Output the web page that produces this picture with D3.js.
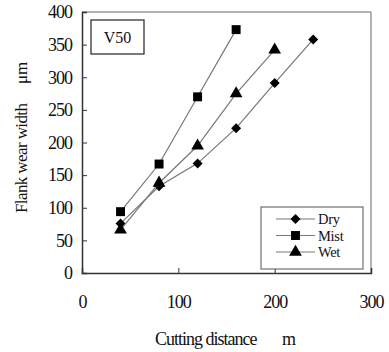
<!DOCTYPE html>
<html><head><meta charset="utf-8">
<script src="https://cdn.jsdelivr.net/npm/d3@7"></script>
<style>body{margin:0;background:#fff}svg{display:block}text{font-family:"Liberation Serif","Times New Roman",serif;fill:#111}</style>
</head><body><svg id="c" width="389" height="352"></svg>
<script>
const xTicks = [0, 100, 200, 300];
const yTicks = [0, 50, 100, 150, 200, 250, 300, 350, 400];
const dryX = [40, 80, 120, 160, 200, 240];
const dryY = [76, 133, 168, 222, 291, 358];
const mistX = [40, 80, 120, 160];
const mistY = [94, 167, 270, 373];
const wetX = [40, 80, 120, 160, 200];
const wetY = [66, 138, 195, 275, 342];
const seriesNames = ["Dry", "Mist", "Wet"];
const seriesShapes = ["diamond", "square", "triangle"];
const labelText = "V50";
const xTitle = ["Cutting distance", "m"];
const yTitle = ["Flank wear width", "\u03bcm"];

const svg = d3.select("#c");
const L = 82, R = 371, T = 12, B = 273;
const x = d3.scaleLinear().domain([0, 300]).range([L, R]);
const y = d3.scaleLinear().domain([0, 400]).range([B, T]);

// frame
svg.append("line").attr("x1", L).attr("x2", R).attr("y1", T).attr("y2", T).attr("stroke", "#999").attr("stroke-width", 1.5);
svg.append("line").attr("x1", R).attr("x2", R).attr("y1", T).attr("y2", B).attr("stroke", "#999").attr("stroke-width", 1.5);

const yAxis = svg.append("g").attr("transform", `translate(${L},0)`)
  .call(d3.axisLeft(y).tickValues(yTicks).tickSize(-5).tickPadding(10).tickFormat(d3.format("d")));
yAxis.select(".domain").attr("stroke", "#333").attr("stroke-width", 1.5);
yAxis.selectAll(".tick line").attr("stroke", "#333");
yAxis.selectAll("text").attr("font-size", 18).attr("letter-spacing", -1).attr("fill", "#111");

const xAxis = svg.append("g").attr("transform", `translate(0,${B})`)
  .call(d3.axisBottom(x).tickValues(xTicks).tickSize(-5).tickPadding(22).tickFormat(d3.format("d")));
xAxis.select(".domain").attr("stroke", "#333").attr("stroke-width", 1.5);
xAxis.selectAll(".tick line").attr("stroke", "#333");
xAxis.selectAll("text").attr("font-size", 18).attr("letter-spacing", -1).attr("fill", "#111");

svg.append("text").attr("x", 155).attr("y", 345).attr("font-size", 18).attr("letter-spacing", -1).text(xTitle[0]);
svg.append("text").attr("x", 282).attr("y", 345).attr("font-size", 18).text(xTitle[1]);
svg.append("text").attr("transform", "translate(27,213) rotate(-90)").attr("font-size", 17).attr("letter-spacing", -0.6).text(yTitle[0]);
svg.append("text").attr("transform", "translate(27,84) rotate(-90)").attr("font-size", 17).text(yTitle[1]);

// V50 box
svg.append("rect").attr("x", 91).attr("y", 20).attr("width", 53).attr("height", 34).attr("fill", "#fff").attr("stroke", "#222").attr("stroke-width", 1.2);
svg.append("text").attr("x", 117.5).attr("y", 43).attr("text-anchor", "middle").attr("font-size", 16).text(labelText);

const symbols = {diamond: d3.symbol().type(d3.symbolSquare).size(50),
  square: d3.symbol().type(d3.symbolSquare).size(80),
  triangle: d3.symbol().type(d3.symbolTriangle).size(70)};
const rot = {diamond: 45, square: 0, triangle: 0};

const series = [
  {xs: dryX, ys: dryY}, {xs: mistX, ys: mistY}, {xs: wetX, ys: wetY}
];
const line = d3.line().x(d => x(d[0])).y(d => y(d[1]));
series.forEach((s, i) => {
  const pts = s.xs.map((v, j) => [v, s.ys[j]]);
  const sh = seriesShapes[i];
  svg.append("path").attr("d", line(pts)).attr("fill", "none").attr("stroke", "#777").attr("stroke-width", 1.2);
  svg.selectAll(null).data(pts).enter().append("path")
    .attr("d", symbols[sh]())
    .attr("transform", d => `translate(${x(d[0])},${y(d[1])}) rotate(${rot[sh]})`)
    .attr("fill", "#000");
});

// legend
const lg = svg.append("g");
lg.append("rect").attr("x", 261).attr("y", 207).attr("width", 102).attr("height", 62).attr("fill", "#fff").attr("stroke", "#555").attr("stroke-width", 1);
seriesNames.forEach((n, i) => {
  const yy = 219 + i * 16.5;
  const sh = seriesShapes[i];
  lg.append("line").attr("x1", 276).attr("x2", 315).attr("y1", yy).attr("y2", yy).attr("stroke", "#777").attr("stroke-width", 1.2);
  lg.append("path").attr("d", symbols[sh]()).attr("transform", `translate(295.5,${yy}) rotate(${rot[sh]})`).attr("fill", "#000");
  lg.append("text").attr("x", 318).attr("y", yy + 5).attr("font-size", 14.5).attr("letter-spacing", -0.3).text(n);
});
</script></body></html>
